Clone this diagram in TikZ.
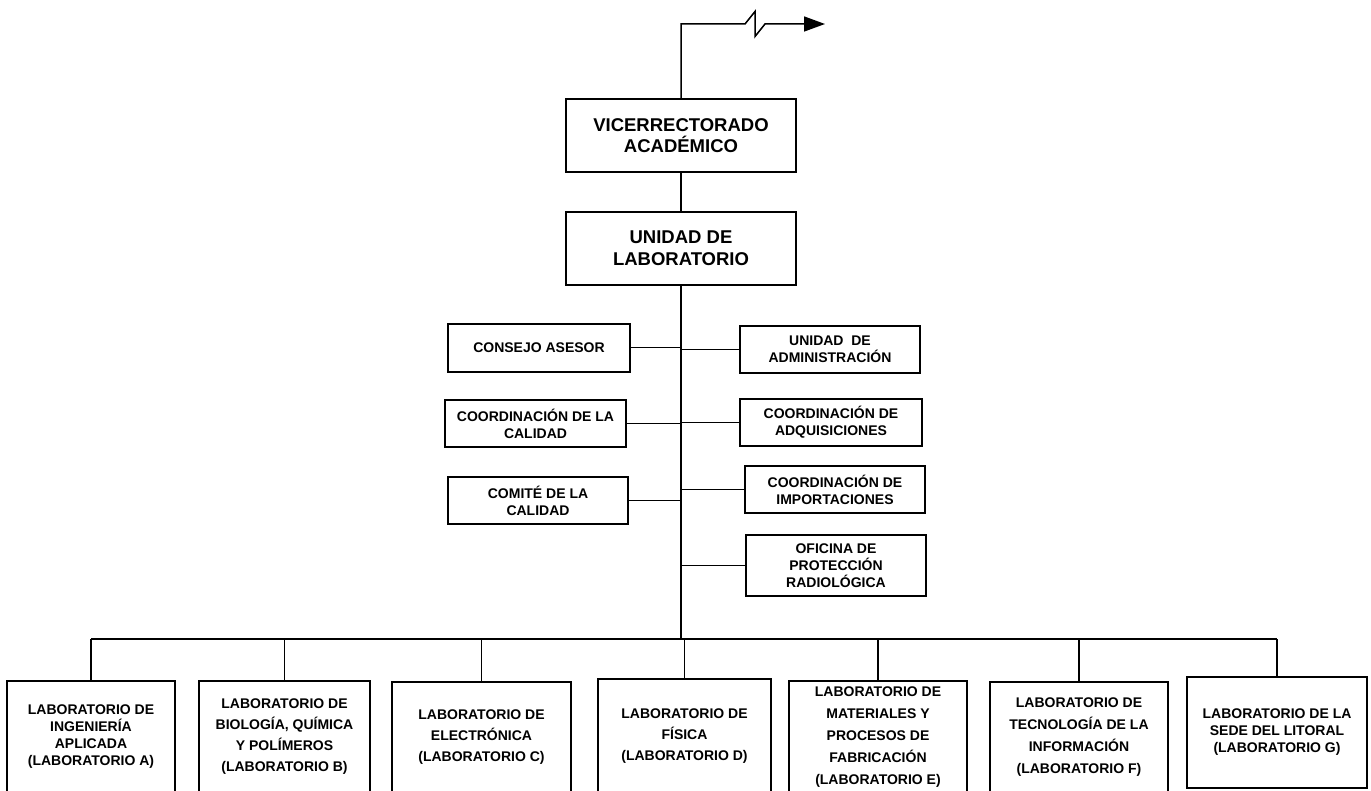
\documentclass[tikz,border=0pt]{standalone}
\usepackage{fontspec}
\setmainfont{Liberation Sans}
\usetikzlibrary{arrows.meta}
\tikzset{
  box/.style={draw, line width=1.6pt, inner sep=0pt, align=center, font=\bfseries\fontsize{14}{17}\selectfont},
  bigbox/.style={box, font=\bfseries\fontsize{18.5}{21.7}\selectfont},
  wide/.style={font=\bfseries\fontsize{14}{21}\selectfont},
  wider/.style={font=\bfseries\fontsize{14}{22}\selectfont},
  link/.style={line width=1.5pt},
  spine/.style={line width=2pt},
  branch/.style={line width=1pt},
}
\begin{document}
\begin{tikzpicture}[x=1pt,y=-1pt]
\useasboundingbox (0,0) rectangle (1371,791);
% top boxes
\node[bigbox, minimum width=230pt, minimum height=73pt] (vr) at (681,135.5) {VICERRECTORADO\\ACADÉMICO};
\node[bigbox, minimum width=230pt, minimum height=73pt] (ul) at (681,248.5) {UNIDAD DE\\LABORATORIO};
% middle boxes
\node[box, minimum width=182pt, minimum height=48pt] (consejo) at (539,348) {CONSEJO ASESOR};
\node[box, minimum width=180pt, minimum height=47pt] (admin) at (830,349.5) {UNIDAD\ \ DE\\ADMINISTRACIÓN};
\node[box, minimum width=181pt, minimum height=47pt] (coordcal) at (535.5,423.5) {COORDINACIÓN DE LA\\CALIDAD};
\node[box, minimum width=182pt, minimum height=47pt] (adq) at (831,422.5) {COORDINACIÓN DE\\ADQUISICIONES};
\node[box, minimum width=180pt, minimum height=47pt] (comite) at (538,500.5) {COMITÉ DE LA\\CALIDAD};
\node[box, minimum width=180pt, minimum height=47pt] (imp) at (835,489.5) {COORDINACIÓN DE\\IMPORTACIONES};
\node[box, minimum width=180pt, minimum height=61pt] (ofi) at (836,565.5) {OFICINA DE\\PROTECCIÓN\\RADIOLÓGICA};
% bottom boxes
\node[box, minimum width=168pt, minimum height=112pt] (labA) at (91,737) {LABORATORIO DE\\INGENIERÍA\\APLICADA\\(LABORATORIO A)};
\node[box, wide, minimum width=171pt, minimum height=112pt] (labB) at (284.5,737) {LABORATORIO DE\\BIOLOGÍA, QUÍMICA\\Y POLÍMEROS\\(LABORATORIO B)};
\node[box, wide, minimum width=179pt, minimum height=111pt] (labC) at (481.5,737.5) {LABORATORIO DE\\ELECTRÓNICA\\(LABORATORIO C)};
\node[box, wide, minimum width=173pt, minimum height=114pt] (labD) at (684.5,736) {LABORATORIO DE\\FÍSICA\\(LABORATORIO D)};
\node[box, wider, minimum width=178pt, minimum height=112pt] (labE) at (878,737) {LABORATORIO DE\\MATERIALES Y\\PROCESOS DE\\FABRICACIÓN\\(LABORATORIO E)};
\node[box, wider, minimum width=178pt, minimum height=111pt] (labF) at (1079,737.5) {LABORATORIO DE\\TECNOLOGÍA DE LA\\INFORMACIÓN\\(LABORATORIO F)};
\node[box, minimum width=180pt, minimum height=111pt] (labG) at (1277,732.5) {LABORATORIO DE LA\\SEDE DEL LITORAL\\(LABORATORIO G)};
% top connector with break and arrow
\coordinate (z1) at (745,24);
\coordinate (z2) at (755,11.5);
\coordinate (z3) at (755,36.5);
\coordinate (z4) at (765,24);
\coordinate (arrowend) at (825,24);
\draw[link, line join=miter, -{Triangle[length=21pt,width=15pt]}] (vr.north) |- (z1) -- (z2) -- (z3) -- (z4) -- (arrowend);
\draw[link] (vr.south) -- (ul.north);
% spine and bus
\coordinate (bus) at (681,639);
\draw[spine] (ul.south) -- (bus);
\draw[spine] (labA.north |- bus) -- (labG.north |- bus);
% middle branches
\draw[branch] (consejo.east) -- (consejo.east -| bus);
\draw[branch] (admin.west) -- (admin.west -| bus);
\draw[branch] (coordcal.east) -- (coordcal.east -| bus);
\draw[branch] (adq.west) -- (adq.west -| bus);
\draw[branch] (comite.east) -- (comite.east -| bus);
\draw[branch] (imp.west) -- (imp.west -| bus);
\draw[branch] (ofi.west) -- (ofi.west -| bus);
% drops
\foreach \n in {labA,labB,labC,labD,labE,labF,labG}
  \draw[line width=1.4pt] (\n.north |- bus) -- (\n.north);
\end{tikzpicture}
\end{document}
